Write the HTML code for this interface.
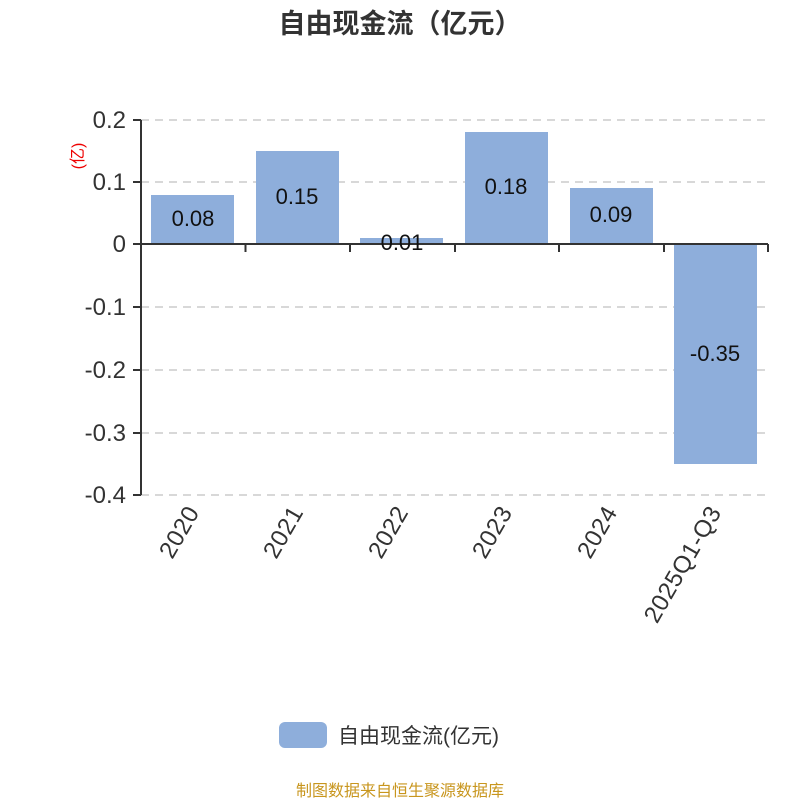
<!DOCTYPE html>
<html><head><meta charset="utf-8"><style>body{margin:0;background:#fff}svg{display:block}</style></head><body>
<svg width="800" height="800" xmlns="http://www.w3.org/2000/svg" font-family="'Liberation Sans','Noto Sans CJK SC',sans-serif">
<text x="400" y="33" text-anchor="middle" font-size="27" font-weight="bold" fill="#333">自由现金流（亿元）</text>
<g stroke="#ccc" stroke-dasharray="8,6" stroke-width="1.5">
<line x1="141" y1="120" x2="768" y2="120"/><line x1="141" y1="182" x2="768" y2="182"/>
<line x1="141" y1="307" x2="768" y2="307"/><line x1="141" y1="370" x2="768" y2="370"/>
<line x1="141" y1="433" x2="768" y2="433"/><line x1="141" y1="495" x2="768" y2="495"/>
</g>
<g fill="#8eaedb">
<rect x="151" y="195" width="83" height="49"/>
<rect x="256" y="151" width="83" height="93"/>
<rect x="360" y="238" width="83" height="6"/>
<rect x="465" y="132" width="83" height="112"/>
<rect x="570" y="188" width="83" height="56"/>
<rect x="674" y="244" width="83" height="220"/>
</g>
<g stroke="#333" stroke-width="2" fill="none">
<line x1="141" y1="120" x2="141" y2="495"/>
<line x1="133" y1="120" x2="141" y2="120"/><line x1="133" y1="182" x2="141" y2="182"/>
<line x1="133" y1="244" x2="141" y2="244"/><line x1="133" y1="307" x2="141" y2="307"/>
<line x1="133" y1="370" x2="141" y2="370"/><line x1="133" y1="433" x2="141" y2="433"/>
<line x1="133" y1="495" x2="141" y2="495"/>
<line x1="141" y1="244" x2="768" y2="244"/>
<line x1="141" y1="244" x2="141" y2="252"/><line x1="245.5" y1="244" x2="245.5" y2="252"/>
<line x1="350" y1="244" x2="350" y2="252"/><line x1="455" y1="244" x2="455" y2="252"/>
<line x1="559" y1="244" x2="559" y2="252"/><line x1="664" y1="244" x2="664" y2="252"/>
<line x1="768" y1="244" x2="768" y2="252"/>
</g>
<g font-size="24" fill="#333" text-anchor="end">
<text x="126" y="128">0.2</text><text x="126" y="190">0.1</text><text x="126" y="252">0</text>
<text x="126" y="315">-0.1</text><text x="126" y="378">-0.2</text><text x="126" y="441">-0.3</text><text x="126" y="503">-0.4</text>
</g>
<text transform="translate(83,156) rotate(-90)" text-anchor="middle" font-size="16" fill="#e00">(亿)</text>
<g font-size="22" fill="#111" text-anchor="middle">
<text x="193" y="226">0.08</text><text x="297" y="204">0.15</text><text x="402" y="250">0.01</text>
<text x="506" y="194">0.18</text><text x="611" y="222">0.09</text><text x="715" y="361">-0.35</text>
</g>
<g font-size="24" fill="#333" text-anchor="end" letter-spacing="0.5">
<text transform="translate(200,512) rotate(-60)">2020</text>
<text transform="translate(304,512) rotate(-60)">2021</text>
<text transform="translate(409,512) rotate(-60)">2022</text>
<text transform="translate(513,512) rotate(-60)">2023</text>
<text transform="translate(618,512) rotate(-60)">2024</text>
<text transform="translate(722,512) rotate(-60)">2025Q1-Q3</text>
</g>
<rect x="279" y="722" width="48" height="26" rx="6" fill="#8eaedb"/>
<text x="338" y="743" font-size="21" fill="#333">自由现金流(亿元)</text>
<text x="400" y="796" text-anchor="middle" font-size="16" fill="#c8961e">制图数据来自恒生聚源数据库</text>
</svg>
</body></html>
